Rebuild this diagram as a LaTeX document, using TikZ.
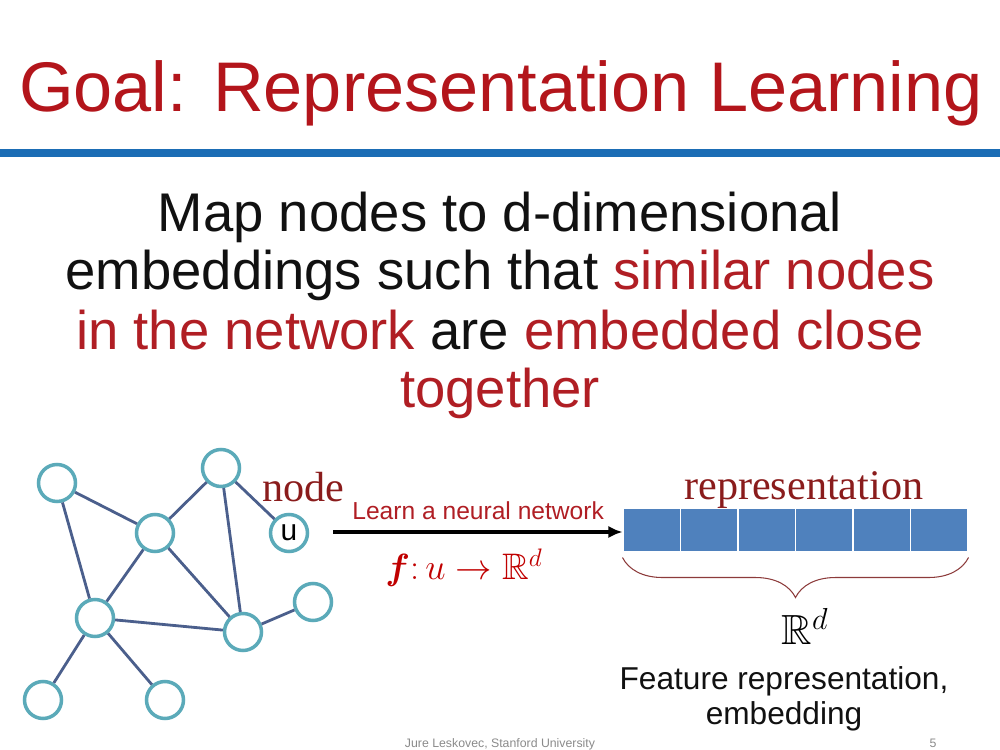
\documentclass[tikz,border=0pt]{standalone}
\usepackage{amsmath,amssymb}
\usepackage[no-math]{fontspec}
\setmainfont{Liberation Serif}
\setsansfont{Liberation Sans}
\usetikzlibrary{arrows.meta,positioning,decorations.pathreplacing}
\definecolor{ink}{HTML}{111111}
\definecolor{titlered}{HTML}{B3151B}
\definecolor{textred}{HTML}{B01E24}
\definecolor{darkred}{HTML}{8A1C1C}
\definecolor{mathred}{HTML}{C00000}
\definecolor{rulecol}{HTML}{1B6DB5}
\definecolor{ringcol}{HTML}{5BAAB9}
\definecolor{slate}{HTML}{4B5F8C}
\definecolor{cellblue}{HTML}{4F81BD}
\definecolor{bracered}{HTML}{8C3B3B}
\definecolor{foot}{HTML}{8A8A8A}

\begin{document}
\begin{tikzpicture}[x=0.02cm,y=0.02cm,font=\sffamily,
    vert/.style={circle,draw=ringcol,line width=2pt,fill=white,minimum size=0.74cm,inner sep=0pt},
    link/.style={draw=slate,line width=1.6pt},
    cell/.style={rectangle,fill=cellblue,draw=white,line width=0.6pt,
                 minimum width=1.15cm,minimum height=0.88cm,inner sep=0pt},
    body/.style={anchor=base,inner sep=0pt,text=ink,font=\sffamily\fontsize{31}{31}\selectfont},
    serifred/.style={anchor=base west,inner sep=0pt,text=darkred,font=\rmfamily\fontsize{24}{24}\selectfont}]
    \useasboundingbox (0,0) rectangle (1000,750);
    % heading
    \node[anchor=base,inner sep=0pt,text=titlered,font=\sffamily\fontsize{40}{40}\selectfont]
      (title) at (501,638) {Goal: Representation Learning};
    \fill[rulecol] (0,593) rectangle (1000,601);
    \node[body] (line1) at (500,518) {Map nodes to d-dimensional};
    \node[body] (line2) at (500,460) {embeddings such that \textcolor{textred}{similar nodes}};
    \node[body] (line3) at (500,400) {\textcolor{textred}{in the network} are \textcolor{textred}{embedded close}};
    \node[body,text=textred] (line4) at (500,342) {together};
    % network
    \foreach \n/\x/\y in {n1/57/267,n2/221/282,n3/155/217,n4/95/132,n5/243/118,n6/313/148,n7/43/50,n8/165/50}
      \node[vert] (\n) at (\x,\y) {};
    \node[vert,font=\sffamily\fontsize{17}{17}\selectfont] (u) at (289,217) {u};
    \foreach \a/\b in {n1/n3,n1/n4,n2/n3,n2/u,n2/n5,n3/n4,n3/n5,n4/n5,n5/n6,n4/n7,n4/n8}
      \draw[link] (\a) -- (\b);
    % embedding vector
    \foreach \i in {0,...,5}
      \node[cell] (cell\i) at (651.75+57.5*\i,220) {};
    \coordinate (arrstart) at (333,218);
    \draw[-{Latex[length=8pt,width=7pt]},line width=2pt] (arrstart) -- (arrstart -| cell0.west);
    \node[serifred] (nodelbl) at (262,248) {node};
    \node[anchor=base west,inner sep=0pt,text=textred,font=\sffamily\fontsize{14}{14}\selectfont]
      (learn) at (352,230) {Learn a neural network};
    \node[anchor=base,inner sep=0pt,text=mathred,font=\fontsize{21}{21}\selectfont]
      (map) at (464,170) {$\boldsymbol{f}{:}\,u\rightarrow\mathbb{R}^d$};
    \node[serifred] (reprlbl) at (684,250) {representation};
    \draw[bracered,line width=0.6pt,decorate,decoration={brace,mirror,amplitude=0.8cm}]
      ([yshift=-0.1cm]cell0.south west) -- ([yshift=-0.1cm]cell5.south east);
    \node[anchor=base,inner sep=0pt,font=\fontsize{24}{24}\selectfont] (rd) at (805,105) {$\mathbb{R}^d$};
    \node[anchor=base,inner sep=0pt,text=ink,font=\sffamily\fontsize{18}{18}\selectfont]
      (feat) at (784,60) {Feature representation,};
    \node[anchor=base,inner sep=0pt,text=ink,font=\sffamily\fontsize{18}{18}\selectfont]
      (emb) at (784,26) {embedding};
    % footer
    \node[anchor=base,inner sep=0pt,text=foot,font=\sffamily\fontsize{7}{7}\selectfont]
      (credit) at (500,3) {Jure Leskovec, Stanford University};
    \node[anchor=base,inner sep=0pt,text=foot,font=\sffamily\fontsize{7}{7}\selectfont]
      (page) at (933,3) {5};
\end{tikzpicture}
\end{document}
